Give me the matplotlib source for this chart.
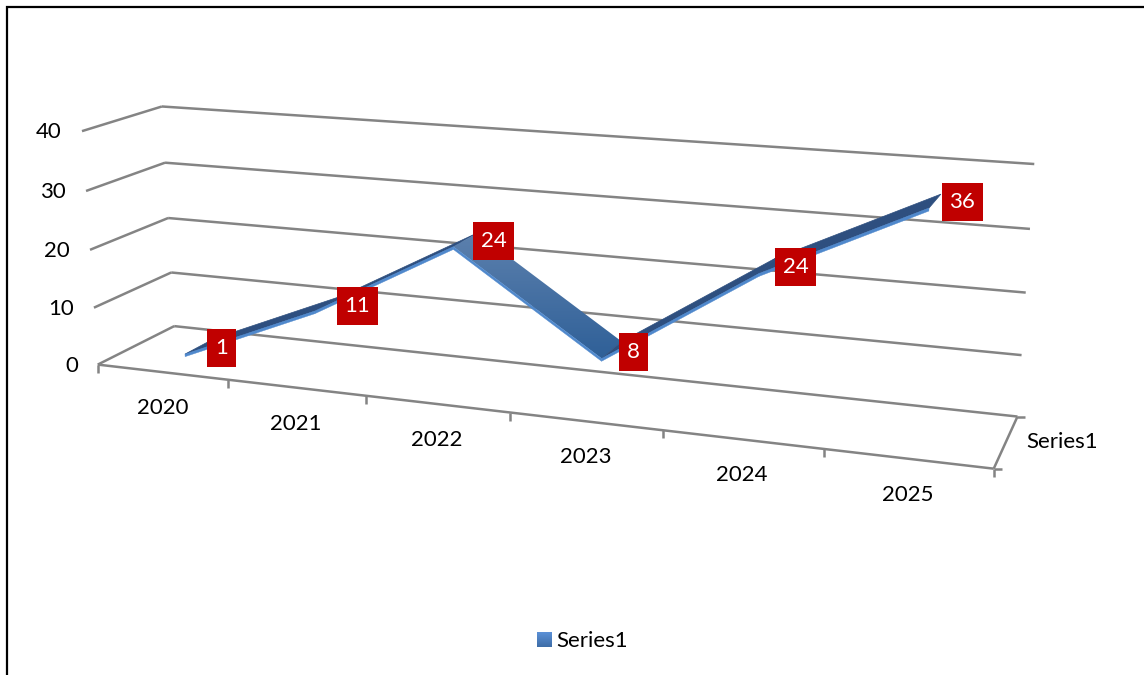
import numpy as np
import matplotlib
matplotlib.use("Agg")
import matplotlib.pyplot as plt
from matplotlib.patches import Polygon, Rectangle, Patch
from matplotlib.colors import LinearSegmentedColormap

plt.rcParams['font.family'] = ['Lato', 'DejaVu Sans']

categories = ["2020", "2021", "2022", "2023", "2024", "2025"]
values = [1, 11, 24, 8, 24, 36]
z_ticks = [0, 10, 20, 30, 40]
series_name = "Series1"

# Camera calibration: (band position, depth, value) -> pixel
cal_world = np.array([
    [0,0,0],[6,0,0],[0,1,0],[6,1,0],
    [0,0,10],[0,0,20],[0,0,30],[0,0,40],
    [0,1,10],[0,1,20],[0,1,30],[0,1,40],
    [6,1,10],[6,1,20],[6,1,30],[6,1,40],
    [1,0,0],[2,0,0],[3,0,0],[4,0,0],[5,0,0]], float)
cal_px = np.array([
    [98,364.5],[994,468],[174,326.5],[1017,416.5],
    [93.5,307.5],[90,250],[86,191],[82,131],
    [171.5,272],[168,218],[165,162],[162,107],
    [1022,355],[1026,293],[1030,229],[1034,164],
    [229,380],[366,396],[510,413],[662,430],[824,449]], float)
scale_w = np.array([6.0, 1.0, 40.0])
A = []
for w, p in zip(cal_world / scale_w, cal_px / 1000):
    h = np.r_[w, 1]
    A.append(np.r_[h, np.zeros(4), -p[0] * h])
    A.append(np.r_[np.zeros(4), h, -p[1] * h])
P = np.linalg.svd(np.array(A))[2][-1].reshape(3, 4)


def proj(u, d, z):
    h = P @ np.array([u / 6.0, d, z / 40.0, 1.0])
    return np.array([h[0] / h[2], h[1] / h[2]]) * 1000


fig = plt.figure(figsize=(11.44, 6.75), dpi=100)
ax = fig.add_axes([0, 0, 1, 1])
ax.set_xlim(0, 1144)
ax.set_ylim(675, 0)
ax.axis("off")

# Outer border
ax.plot([7, 7, 1144], [675, 7, 7], color="black", lw=1.6, solid_joinstyle="miter", zorder=1)

GRID = "#848484"
LW = 1.8
FS = 16


def seg(a, b, **kw):
    ax.plot([a[0], b[0]], [a[1], b[1]], color=GRID, lw=LW, solid_capstyle="butt", zorder=2, **kw)


for z in z_ticks:
    seg(proj(0, 0, z), proj(0, 1, z))
    seg(proj(0, 1, z), proj(6, 1, z))
    fp = proj(0, 0, z)
    ax.text(fp[0] - 20, fp[1] + 1, str(z), ha="right", va="center", fontsize=FS, color="black")
seg(proj(0, 0, 0), proj(6, 0, 0))
seg(proj(6, 0, 0), proj(6, 1, 0))

for i in range(len(categories) + 1):
    p = proj(i, 0, 0)
    seg(p, p + [0, 8])
    if i < len(categories):
        c = proj(i + 0.5, 0, 0)
        ax.text(c[0], c[1] + 36, categories[i], ha="center", va="center", fontsize=FS, color="black")
for d in (0, 1):
    p = proj(6, d, 0)
    seg(p, p + [8, 0])
m = proj(6, 0.5, 0)
ax.text(m[0] + 20, m[1], series_name, ha="left", va="center", fontsize=FS, color="black")

# Ribbon
D0, D1, T = 0.3, 0.7, 0.45
FRONT = "#4f88cc"
cmap = LinearSegmentedColormap.from_list("rib", ["#5c80ad", "#2f6098"])
for i in range(len(values) - 1):
    u0, u1 = i + 0.5, i + 1.5
    v0, v1 = values[i], values[i + 1]
    top = np.array([proj(u0, D0, v0), proj(u1, D0, v1), proj(u1, D1, v1), proj(u0, D1, v0)])
    if v1 < v0:
        poly = Polygon(top, closed=True, fc="none", ec="none", transform=ax.transData)
        ax.add_patch(poly)
        x0, x1, y0, y1 = top[:, 0].min(), top[:, 0].max(), top[:, 1].min(), top[:, 1].max()
        im = ax.imshow(np.linspace(0, 1, 64).reshape(-1, 1), cmap=cmap, aspect="auto",
                       extent=[x0, x1, y1, y0], zorder=3, interpolation="bilinear")
        im.set_clip_path(poly)
        ax.set_xlim(0, 1144)
        ax.set_ylim(675, 0)
    else:
        ax.add_patch(Polygon(top, closed=True, fc="#2e4f7f", ec="#2e4f7f", lw=0.5, zorder=3))
for i in range(len(values) - 1):
    u0, u1 = i + 0.5, i + 1.5
    v0, v1 = values[i], values[i + 1]
    front = [proj(u0, D0, v0), proj(u1, D0, v1), proj(u1, D0, v1 - T), proj(u0, D0, v0 - T)]
    ax.add_patch(Polygon(front, closed=True, fc=FRONT, ec=FRONT, lw=0.3, zorder=4))

# Data labels
label_offset = [(22, 2), (29, 3), (28, 1), (22, 2), (28, 1), (27, 1)]
for i, v in enumerate(values):
    a = proj(i + 0.5, 0.5, v)
    cx, cy = a[0] + label_offset[i][0], a[1] + label_offset[i][1]
    w = 29 if v < 10 else 41
    ax.add_patch(Rectangle((cx - w / 2, cy - 19), w, 38, fc="#C00000", ec="none", zorder=5))
    ax.text(cx, cy, str(v), ha="center", va="center", color="white", fontsize=FS, zorder=6)

leg = ax.legend(handles=[Patch(fc="#4f81bd", ec="none", label=series_name)], loc="center",
                bbox_to_anchor=(582.5 / 1144, 1 - 641 / 675), frameon=False, fontsize=FS,
                handlelength=0.64, handleheight=0.64, handletextpad=0.22, borderpad=0)
fig.canvas.draw()
bb = leg.get_patches()[0].get_window_extent(fig.canvas.get_renderer())
ax.imshow(np.linspace(0, 1, 16).reshape(-1, 1),
          cmap=LinearSegmentedColormap.from_list("leg", ["#5b90d6", "#3e6ea8"]),
          aspect="auto", extent=[bb.x0, bb.x1, 675 - bb.y0, 675 - bb.y1], zorder=7)
ax.set_xlim(0, 1144)
ax.set_ylim(675, 0)
fig.savefig("out.png", dpi=100)
